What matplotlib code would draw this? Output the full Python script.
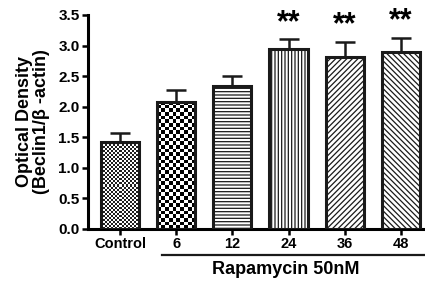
import numpy as np
import matplotlib
matplotlib.use("Agg")
import matplotlib.pyplot as plt
import matplotlib.transforms as mtransforms

plt.rcParams["font.family"] = ["Liberation Sans", "DejaVu Sans"]
plt.rcParams["font.weight"] = "bold"
plt.rcParams["hatch.linewidth"] = 0.9

# data
GROUPS = ["Control", "6", "12", "24", "36", "48"]
MEANS = [1.42, 2.08, 2.34, 2.95, 2.81, 2.89]
SEMS = [0.15, 0.19, 0.16, 0.15, 0.25, 0.24]
SIG = ["", "", "", "**", "**", "**"]
YTICKS = [0.0, 0.5, 1.0, 1.5, 2.0, 2.5, 3.0, 3.5]

fig = plt.figure(figsize=(4.25, 2.82), dpi=100)
ax = fig.add_axes([0.207, 0.188, 0.793, 0.759])

x = np.arange(len(GROUPS))
width = 0.68
bars = ax.bar(x, MEANS, width=width, color="white", edgecolor="#1a1a1a",
              linewidth=2.2, zorder=3)
ax.errorbar(x, MEANS, yerr=[np.zeros(len(SEMS)), SEMS], fmt="none",
            ecolor="#1a1a1a", elinewidth=1.8, capsize=7, capthick=1.8, zorder=2)

# checkerboard fills for the first two bars
def checker(n_rows, n_cols):
    return (np.add.outer(np.arange(n_rows), np.arange(n_cols)) % 2).astype(float)

for bar, cell in [(bars[0], 2.0), (bars[1], 3.6)]:
    h_px = bar.get_height() * 61.2
    w_px = 38
    img = checker(int(h_px / cell), int(w_px / cell))
    x0 = bar.get_x()
    im = ax.imshow(img, cmap="gray_r", vmin=0, vmax=1.15 if cell < 3 else 1,
                   extent=[x0, x0 + bar.get_width(), 0, bar.get_height()],
                   interpolation="nearest", aspect="auto", zorder=2.5)
    im.set_clip_path(bar)
    bar.set_facecolor("none")

bars[2].set_hatch("-----")
bars[3].set_hatch("|||||")
bars[4].set_hatch("//////")
bars[5].set_hatch("\\\\\\\\\\\\")

for xi, m, s, t in zip(x, MEANS, SEMS, SIG):
    if t:
        ax.text(xi, m + s + 0.02, t, ha="center", va="bottom", fontsize=22,
                fontweight="bold")

ax.set_xlim(-0.57, 5.43)
ax.set_ylim(0, 3.5)
ax.set_yticks(YTICKS)
ax.set_yticklabels([f"{v:.1f}" for v in YTICKS], fontsize=11, fontweight="bold")
ax.set_xticks(x)
ax.set_xticklabels(GROUPS, fontsize=10.5, fontweight="bold")
ax.tick_params(axis="both", direction="out", width=1.8, length=4, pad=2)
for side in ["top", "right"]:
    ax.spines[side].set_visible(False)
for side in ["left", "bottom"]:
    ax.spines[side].set_linewidth(2.2)

ax.set_ylabel("Optical Density\n(Beclin1/\u03b2 -actin)", fontsize=13,
              fontweight="bold", labelpad=6, linespacing=1.0)

trans = mtransforms.blended_transform_factory(ax.transData, ax.transAxes)
ax.plot([0.75, 5.43], [-0.12, -0.12], color="#1a1a1a", linewidth=1.6,
        transform=trans, clip_on=False)
ax.text(2.95, -0.15, "Rapamycin 50nM", transform=trans, ha="center", va="top",
        fontsize=13, fontweight="bold")

fig.savefig("out.png", dpi=100)
